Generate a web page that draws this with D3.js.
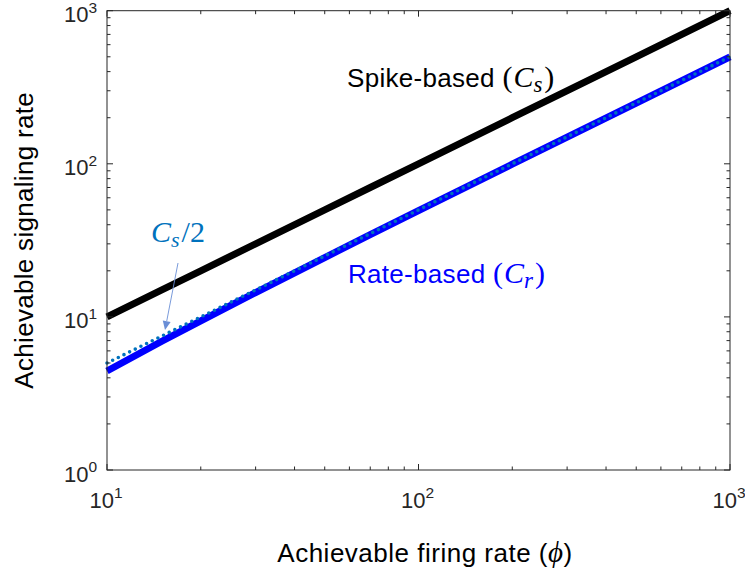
<!DOCTYPE html>
<html>
<head>
<meta charset="utf-8">
<script src="https://cdn.jsdelivr.net/npm/d3@7"></script>
<style>
  html, body { margin: 0; padding: 0; background: #fff; }
  svg { display: block; }
</style>
</head>
<body>
<svg id="chart" width="745" height="578"></svg>
<script>
// ---- data ----
const phi        = [10, 15, 20, 30, 50, 70, 100, 200, 500, 1000];
const spikeBased = [10, 15, 20, 30, 50, 70, 100, 200, 500, 1000];
const halfSpike  = [5, 7.5, 10, 15, 25, 35, 50, 100, 250, 500];
const rateBased  = [4.43, 6.93, 9.43, 14.43, 24.43, 34.43, 49.43, 99.43, 249.43, 499.43];
const xTickVals  = [10, 100, 1000];
const xTickExp   = ["1", "2", "3"];
const yTickVals  = [1, 10, 100, 1000];
const yTickExp   = ["0", "1", "2", "3"];
const xLabel = "Achievable firing rate (";
const yLabel = "Achievable signaling rate";

// ---- layout ----
const svg = d3.select("#chart");
const L = 107, R = 730, T = 10.7, B = 470;
const x = d3.scaleLog().domain([10, 1000]).range([L, R]);
const y = d3.scaleLog().domain([1, 1000]).range([B, T]);
const axisColor = "#262626";
const sans = "'Liberation Sans', Arial, Helvetica, sans-serif";
const serif = "'Liberation Serif', 'DejaVu Serif', serif";

// ---- lines ----
const line = (ys) => d3.line().x((d, i) => x(phi[i])).y((d, i) => y(ys[i]))(ys);
svg.append("path").attr("d", line(spikeBased)).attr("fill", "none")
  .attr("stroke", "#000").attr("stroke-width", 7);
svg.append("path").attr("d", line(rateBased)).attr("fill", "none")
  .attr("stroke", "#0000ff").attr("stroke-width", 7);
svg.append("path").attr("d", line(halfSpike)).attr("fill", "none")
  .attr("stroke", "#0072BD").attr("stroke-width", 3.6)
  .attr("stroke-linecap", "round").attr("stroke-dasharray", "0 6.3");

// ---- box & ticks ----
svg.append("rect").attr("x", L).attr("y", T).attr("width", R - L).attr("height", B - T)
  .attr("fill", "none").attr("stroke", axisColor).attr("stroke-width", 1);

const g = svg.append("g").attr("stroke", axisColor).attr("stroke-width", 1);
x.ticks().forEach(v => {
  const major = xTickVals.includes(v);
  const len = major ? 6 : 3.5;
  const px = x(v);
  g.append("line").attr("x1", px).attr("x2", px).attr("y1", B).attr("y2", B - len);
  g.append("line").attr("x1", px).attr("x2", px).attr("y1", T).attr("y2", T + len);
});
y.ticks().forEach(v => {
  const major = yTickVals.includes(v);
  const len = major ? 6 : 3.5;
  const py = y(v);
  g.append("line").attr("y1", py).attr("y2", py).attr("x1", L).attr("x2", L + len);
  g.append("line").attr("y1", py).attr("y2", py).attr("x1", R).attr("x2", R - len);
});

// tick labels
xTickVals.forEach((v, i) => {
  const t = svg.append("text").attr("x", x(v) - 1).attr("y", B + 37.5)
    .attr("text-anchor", "middle").attr("font-family", sans).attr("font-size", 22)
    .attr("fill", axisColor);
  t.append("tspan").text("10");
  t.append("tspan").attr("dy", -10).attr("font-size", 15.5).text(xTickExp[i]);
});
yTickVals.forEach((v, i) => {
  const t = svg.append("text").attr("x", L - 10).attr("y", y(v) + 11.5)
    .attr("text-anchor", "end").attr("font-family", sans).attr("font-size", 22)
    .attr("fill", axisColor);
  t.append("tspan").text("10");
  t.append("tspan").attr("dy", -9.5).attr("font-size", 15.5).text(yTickExp[i]);
});

// axis labels
const xl = svg.append("text").attr("x", 425).attr("y", 561.5).attr("text-anchor", "middle")
  .attr("font-family", sans).attr("font-size", 26).attr("letter-spacing", 0.5).attr("fill", "#000");
xl.append("tspan").text(xLabel);
xl.append("tspan").attr("font-family", serif).attr("font-style", "italic").attr("font-size", 29).text("\u03D5");
xl.append("tspan").text(")");

svg.append("text").attr("transform", `translate(33,${(T + B) / 2}) rotate(-90)`)
  .attr("text-anchor", "middle").attr("font-family", sans).attr("font-size", 26)
  .attr("letter-spacing", 0.3).attr("fill", "#000").text(yLabel);

// ---- annotations ----
function mathLabel(xp, yp, prefix, sub, color) {
  const t = svg.append("text").attr("x", xp).attr("y", yp).attr("font-family", sans)
    .attr("font-size", 26).attr("fill", color);
  t.append("tspan").attr("letter-spacing", 0.3).text(prefix);
  t.append("tspan").attr("font-family", serif).attr("font-size", 30).text("(");
  t.append("tspan").attr("font-family", serif).attr("font-style", "italic").attr("font-size", 30)
    .attr("dx", 1).text("C");
  t.append("tspan").attr("font-family", serif).attr("font-style", "italic").attr("font-size", 23)
    .attr("dy", 5).text(sub);
  t.append("tspan").attr("font-family", serif).attr("font-size", 30).attr("dy", -5).attr("dx", 2).text(")");
}
mathLabel(347, 87, "Spike-based ", "s", "#000");
mathLabel(348, 283, "Rate-based ", "r", "#0000ff");

const cs = svg.append("text").attr("x", 151).attr("y", 242).attr("font-family", serif)
  .attr("font-size", 30).attr("fill", "#0072BD");
cs.append("tspan").attr("font-style", "italic").text("C");
cs.append("tspan").attr("font-style", "italic").attr("font-size", 22).attr("dy", 5).text("s");
cs.append("tspan").attr("dy", -5).attr("dx", 2).text("/2");

// arrow
const arrowColor = "#6a8ed6";
const a0 = [178, 263], a1 = [165, 330];
const ang = Math.atan2(a1[1] - a0[1], a1[0] - a0[0]);
const hl = 9, hw = 4;
const bx = a1[0] - hl * Math.cos(ang), by = a1[1] - hl * Math.sin(ang);
svg.append("line").attr("x1", a0[0]).attr("y1", a0[1]).attr("x2", bx).attr("y2", by)
  .attr("stroke", arrowColor).attr("stroke-width", 0.9);
svg.append("path").attr("d", `M${a1[0]},${a1[1]}L${bx + hw * Math.sin(ang)},${by - hw * Math.cos(ang)}L${bx - hw * Math.sin(ang)},${by + hw * Math.cos(ang)}Z`)
  .attr("fill", arrowColor);
</script>
</body>
</html>
